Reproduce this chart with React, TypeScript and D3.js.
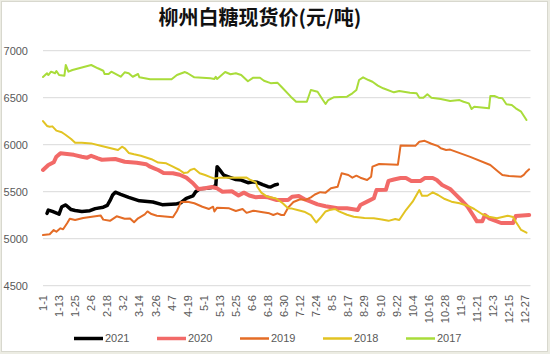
import React from "react";
import * as d3 from "d3";

// calendar categories (non-leap year), tick every 12th day
const dates: string[] = d3
  .timeDays(new Date(2019, 0, 1), new Date(2020, 0, 1))
  .map(d3.timeFormat("%-m-%-d"));
const tickDates = dates.filter((_, i) => i % 12 === 0);
const yTicks = [4500, 5000, 5500, 6000, 6500, 7000];

const s2021: [string, number][] = [
  ["1-4", 5270], ["1-5", 5305], ["1-8", 5290], ["1-13", 5262], ["1-15", 5340], ["1-18", 5359],
  ["1-22", 5310], ["1-25", 5300], ["1-30", 5290], ["2-5", 5298], ["2-9", 5320], ["2-15", 5335],
  ["2-18", 5355], ["2-20", 5405], ["2-22", 5465], ["2-24", 5495], ["2-28", 5472], ["3-6", 5440],
  ["3-14", 5403], ["3-24", 5390], ["3-31", 5362], ["4-10", 5368], ["4-14", 5383], ["4-18", 5430],
  ["4-23", 5455], ["4-25", 5500], ["4-28", 5530], ["5-3", 5536], ["5-7", 5545], ["5-10", 5564],
  ["5-11", 5766], ["5-14", 5713], ["5-16", 5675], ["5-21", 5650], ["5-25", 5630], ["5-29", 5624],
  ["6-3", 5596], ["6-7", 5605], ["6-10", 5600], ["6-14", 5575], ["6-18", 5553], ["6-20", 5550],
  ["6-23", 5571], ["6-25", 5578],
];

const s2020: [string, number][] = [
  ["1-1", 5731], ["1-5", 5784], ["1-9", 5813], ["1-11", 5872], ["1-14", 5908], ["1-24", 5892],
  ["1-30", 5872], ["2-3", 5862], ["2-6", 5882], ["2-11", 5855], ["2-14", 5840], ["2-24", 5848],
  ["3-3", 5819], ["3-12", 5809], ["3-19", 5793], ["3-22", 5766], ["3-25", 5749], ["3-28", 5731],
  ["4-1", 5700], ["4-8", 5696], ["4-13", 5680], ["4-18", 5650], ["4-21", 5614], ["4-23", 5590],
  ["4-27", 5528], ["5-2", 5536], ["5-7", 5550], ["5-11", 5536], ["5-15", 5500], ["5-22", 5505],
  ["5-27", 5460], ["5-31", 5490], ["6-4", 5460], ["6-9", 5440], ["6-13", 5447], ["6-18", 5440],
  ["6-24", 5412], ["7-3", 5412], ["7-6", 5447], ["7-11", 5455], ["7-15", 5422], ["7-19", 5400],
  ["7-25", 5365], ["7-31", 5345], ["8-9", 5323], ["8-16", 5323], ["8-24", 5305], ["8-26", 5359],
  ["8-31", 5394], ["9-5", 5430], ["9-7", 5518], ["9-14", 5520], ["9-16", 5615], ["9-20", 5630],
  ["9-25", 5645], ["9-29", 5645], ["10-3", 5614], ["10-10", 5614], ["10-13", 5645], ["10-19", 5645],
  ["10-22", 5624], ["10-26", 5571], ["11-1", 5529], ["11-5", 5472], ["11-10", 5401], ["11-14", 5340],
  ["11-18", 5252], ["11-21", 5185], ["11-25", 5185], ["11-27", 5252], ["11-30", 5217], ["12-5", 5190],
  ["12-9", 5167], ["12-18", 5167], ["12-20", 5242], ["12-30", 5252],
];

const s2019: [string, number][] = [
  ["1-1", 5039], ["1-6", 5047], ["1-9", 5092], ["1-11", 5074], ["1-14", 5110], ["1-16", 5100],
  ["1-19", 5164], ["1-21", 5213], ["1-25", 5199], ["1-31", 5220], ["2-13", 5248], ["2-15", 5203],
  ["2-20", 5190], ["2-25", 5238], ["2-28", 5225], ["3-3", 5212], ["3-7", 5215], ["3-10", 5175],
  ["3-13", 5217], ["3-18", 5258], ["3-20", 5290], ["3-23", 5262], ["3-27", 5245], ["4-8", 5228],
  ["4-11", 5295], ["4-14", 5390], ["4-19", 5394], ["4-24", 5377], ["4-30", 5340], ["5-5", 5316],
  ["5-8", 5340], ["5-9", 5290], ["5-11", 5330], ["5-20", 5323], ["5-25", 5295], ["5-30", 5316],
  ["6-2", 5275], ["6-7", 5298], ["6-13", 5285], ["6-19", 5270], ["6-22", 5252], ["6-25", 5270],
  ["6-28", 5252], ["6-30", 5252], ["7-3", 5330], ["7-7", 5390], ["7-12", 5420], ["7-16", 5412],
  ["7-20", 5440], ["7-23", 5470], ["7-27", 5495], ["7-31", 5490], ["8-4", 5536], ["8-9", 5553],
  ["8-12", 5696], ["8-17", 5678], ["8-20", 5649], ["8-23", 5670], ["8-26", 5649], ["8-31", 5624],
  ["9-3", 5660], ["9-4", 5766], ["9-9", 5795], ["9-23", 5788], ["9-25", 5992], ["10-6", 5988],
  ["10-9", 6032], ["10-13", 6041], ["10-18", 6010], ["10-23", 5985], ["10-25", 5962], ["10-29", 5944],
  ["11-1", 5948], ["11-16", 5870], ["12-1", 5784], ["12-7", 5713], ["12-10", 5678], ["12-15", 5667],
  ["12-24", 5660], ["12-26", 5678], ["12-28", 5713], ["12-30", 5738],
];

const s2018: [string, number][] = [
  ["1-1", 6252], ["1-4", 6199], ["1-6", 6191], ["1-8", 6195], ["1-11", 6150], ["1-15", 6132],
  ["1-18", 6103], ["1-22", 6061], ["1-25", 6021], ["1-30", 6021], ["2-6", 6014], ["2-13", 5989],
  ["2-26", 5944], ["3-1", 5979], ["3-3", 5962], ["3-6", 5912], ["3-10", 5898], ["3-15", 5883],
  ["3-23", 5846], ["3-28", 5810], ["4-3", 5802], ["4-8", 5766], ["4-13", 5731], ["4-16", 5700],
  ["4-19", 5705], ["4-21", 5731], ["4-24", 5745], ["4-28", 5696], ["5-2", 5678], ["5-6", 5655],
  ["5-9", 5640], ["5-13", 5649], ["6-2", 5650], ["6-5", 5624], ["6-9", 5600], ["6-10", 5553],
  ["6-13", 5490], ["6-17", 5450], ["6-24", 5428], ["6-29", 5377], ["7-3", 5323], ["7-6", 5320],
  ["7-10", 5305], ["7-15", 5287], ["7-20", 5250], ["7-24", 5172], ["7-27", 5220], ["7-31", 5290],
  ["8-3", 5305], ["8-7", 5316], ["8-10", 5290], ["8-16", 5255], ["8-21", 5234], ["8-29", 5220],
  ["9-5", 5217], ["9-11", 5205], ["9-16", 5190], ["9-21", 5210], ["9-24", 5199], ["9-29", 5305],
  ["10-4", 5394], ["10-9", 5518], ["10-11", 5457], ["10-15", 5457], ["10-19", 5493], ["10-23", 5465],
  ["10-28", 5422], ["11-2", 5394], ["11-8", 5377], ["11-14", 5351], ["11-19", 5316], ["11-25", 5260],
  ["11-30", 5234], ["12-6", 5217], ["12-14", 5245], ["12-18", 5230], ["12-20", 5181], ["12-24", 5093],
  ["12-28", 5064],
];

const s2017: [string, number][] = [
  ["1-1", 6720], ["1-4", 6760], ["1-5", 6741], ["1-7", 6777], ["1-10", 6760], ["1-11", 6784],
  ["1-13", 6741], ["1-17", 6734], ["1-18", 6848], ["1-20", 6777], ["1-23", 6795], ["2-6", 6848],
  ["2-11", 6813], ["2-15", 6787], ["2-16", 6752], ["2-19", 6752], ["2-21", 6777], ["2-28", 6723],
  ["3-3", 6770], ["3-6", 6760], ["3-9", 6723], ["3-13", 6752], ["3-14", 6717], ["3-22", 6696],
  ["4-7", 6696], ["4-11", 6741], ["4-17", 6773], ["4-19", 6760], ["4-24", 6717], ["5-6", 6706],
  ["5-9", 6700], ["5-10", 6723], ["5-11", 6700], ["5-17", 6773], ["5-21", 6749], ["5-25", 6760],
  ["5-29", 6741], ["6-3", 6675], ["6-7", 6713], ["6-12", 6713], ["6-15", 6680], ["6-20", 6655],
  ["6-25", 6660], ["6-28", 6617], ["7-5", 6511], ["7-9", 6457], ["7-17", 6457], ["7-20", 6582],
  ["7-25", 6564], ["7-29", 6475], ["7-31", 6433], ["8-2", 6475], ["8-6", 6504], ["8-16", 6511],
  ["8-20", 6547], ["8-23", 6582], ["8-25", 6688], ["8-28", 6717], ["9-1", 6688], ["9-4", 6670],
  ["9-8", 6628], ["9-12", 6600], ["9-20", 6557], ["9-24", 6571], ["10-2", 6553], ["10-7", 6547],
  ["10-9", 6500], ["10-12", 6500], ["10-15", 6536], ["10-18", 6500], ["10-25", 6486], ["11-1", 6465],
  ["11-8", 6475], ["11-11", 6457], ["11-15", 6440], ["11-17", 6380], ["11-19", 6404], ["11-30", 6387],
  ["12-1", 6518], ["12-4", 6518], ["12-7", 6500], ["12-10", 6494], ["12-13", 6430], ["12-17", 6422],
  ["12-20", 6387], ["12-24", 6351], ["12-28", 6263],
];

const seriesNames = ["2021", "2020", "2019", "2018", "2017"];
const seriesData = [s2021, s2020, s2019, s2018, s2017];
const colors = ["#000000", "#f26a68", "#e46c26", "#e2c322", "#a9dc3a"];
const widths = [3.5, 4, 2, 2, 2];

const W = 550;
const H = 354;
const font = "'Liberation Sans', 'Noto Sans', sans-serif";

export default function App() {
  const x = d3.scalePoint<string>().domain(dates).range([43, 530.5]);
  const y = d3.scaleLinear().domain([4500, 7000]).range([285.7, 50.7]);
  const line = d3
    .line<[string, number]>()
    .x((d) => x(d[0]) as number)
    .y((d) => y(d[1]));

  return (
    <svg
      width={W}
      height={H}
      style={{ position: "absolute", left: 0, top: 0, background: "#ecece3" }}
    >
      <rect x={1.5} y={1.5} width={546} height={350} fill="#fff" stroke="#d8d8ce" />
      <text
        x={260}
        y={25}
        textAnchor="middle"
        fontSize={20}
        fontWeight="bold"
        fontFamily="'Noto Sans CJK SC', sans-serif"
        fill="#111"
      >
        柳州白糖现货价(元/吨)
      </text>

      {yTicks.map((t) => (
        <g key={t}>
          <line x1={43} x2={530.5} y1={y(t)} y2={y(t)} stroke="#d9d9d9" strokeWidth={1} />
          <text
            x={28}
            y={y(t)}
            dy="0.35em"
            textAnchor="end"
            fontSize={11}
            fontFamily={font}
            fill="#595959"
          >
            {t}
          </text>
        </g>
      ))}

      {tickDates.map((d) => (
        <text
          key={d}
          transform={`translate(${(x(d) as number) + 4},295) rotate(-90)`}
          textAnchor="end"
          fontSize={11}
          fontFamily={font}
          fill="#595959"
        >
          {d}
        </text>
      ))}

      {seriesData.map((s, i) => (
        <path
          key={seriesNames[i]}
          d={line(s) || ""}
          fill="none"
          stroke={colors[i]}
          strokeWidth={widths[i]}
          strokeLinejoin="round"
          strokeLinecap="round"
        />
      ))}

      {seriesNames.map((n, i) => (
        <g key={n} transform={`translate(${74 + i * 83},338.5)`}>
          <line x1={0} x2={29} y1={0} y2={0} stroke={colors[i]} strokeWidth={i < 2 ? 3.5 : 2.5} />
          <text x={31} y={0} dy="0.35em" fontSize={11} fontFamily={font} fill="#595959">
            {n}
          </text>
        </g>
      ))}
    </svg>
  );
}
